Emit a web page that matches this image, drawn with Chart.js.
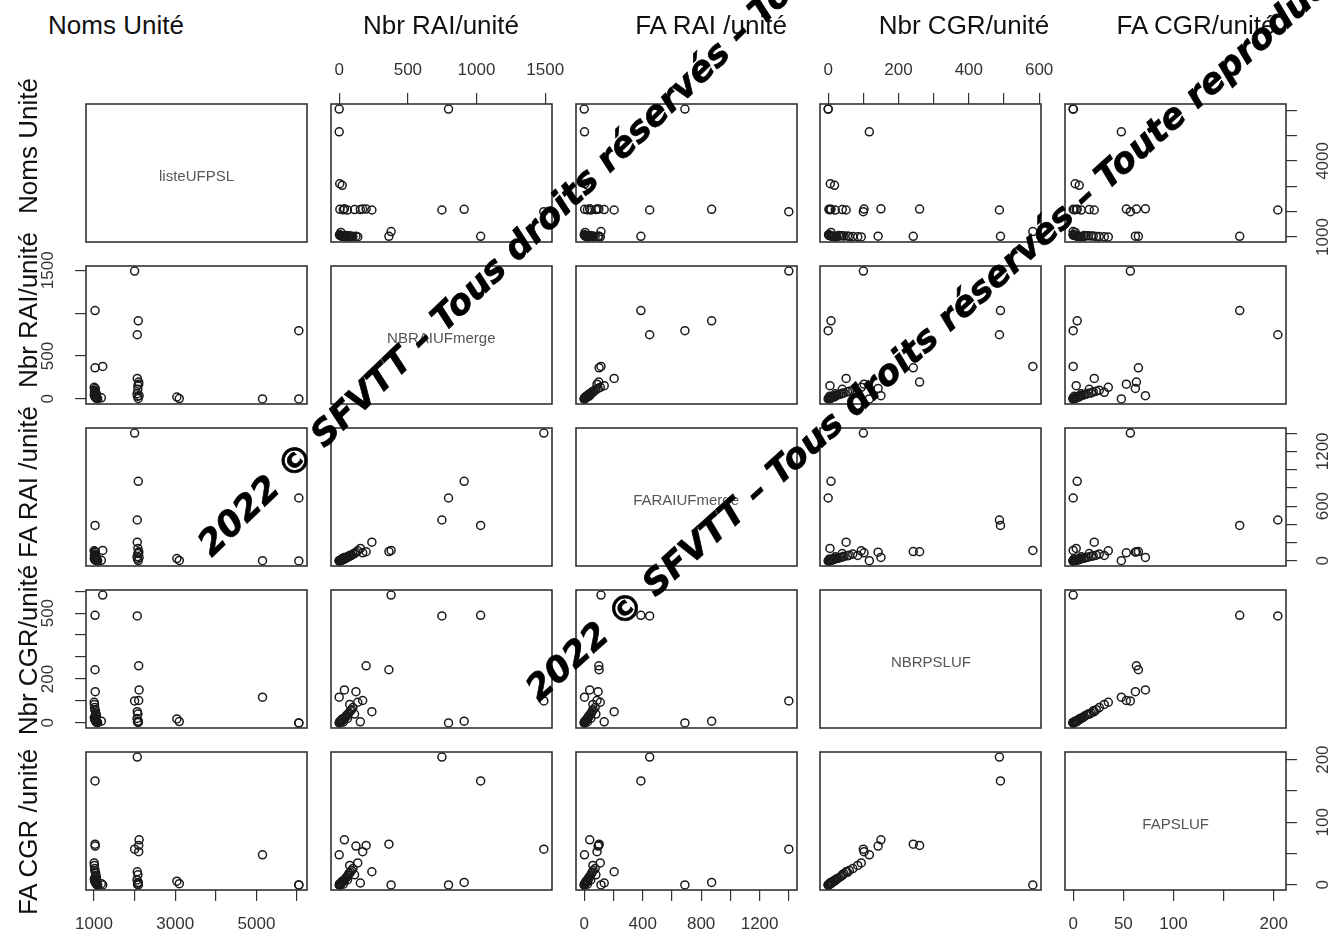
<!DOCTYPE html>
<html lang="fr">
<head>
  <meta charset="UTF-8">
  <title>Matrice de nuages de points</title>
  <script src="https://cdn.jsdelivr.net/npm/chart.js"></script>
  <style>
    html, body { margin: 0; padding: 0; background: #fff; }
    #page { position: relative; width: 1332px; height: 937px; overflow: hidden; font-family: "Liberation Sans", Arial, sans-serif; }
    .panel { position: absolute; }
    .panel canvas { display: block; }
    .hdr { position: absolute; top: 12px; font-size: 26px; line-height: 26px; color: #111; white-space: nowrap; transform: translateX(-50%); }
    .side { position: absolute; left: 28px; font-size: 26px; line-height: 26px; color: #111; white-space: nowrap; transform: translate(-50%, -50%) rotate(-90deg); }
    .diag { position: absolute; font-size: 15px; color: #555; white-space: nowrap; transform: translate(-50%, -50%); }
    .wm { position: absolute; font-family: "DejaVu Sans", sans-serif; font-weight: bold; font-style: italic; font-size: 35px; line-height: 35px; color: #000; -webkit-text-stroke: 0.7px #000; white-space: nowrap; transform-origin: 0 100%; z-index: 5; }
  </style>
</head>
<body>
<div id="page"></div>
<script>
  // noms des variables (en-têtes) et étiquettes de la diagonale
  const varNames = ['Noms Unité', 'Nbr RAI/unité', 'FA RAI /unité', 'Nbr CGR/unité', 'FA CGR/unité'];
  const sideNames = ['Noms Unité', 'Nbr RAI/unité', 'FA RAI /unité', 'Nbr CGR/unité', 'FA CGR /unité'];
  const diagLabels = ['listeUFPSL', 'NBRAIUFmerge', 'FARAIUFmerge', 'NBRPSLUF', 'FAPSLUF'];

  // une valeur par unité (même ordre dans chaque tableau)
  const nomsUnite = [2000, 1025, 2090, 2065, 6044, 1025, 1214, 2065, 2100, 5150, 6044, 1030, 2110, 2100, 2080, 3040, 3100,
                     2060, 2070, 2090, 2080, 1004, 1010, 1015, 1020, 1035, 1040, 1045, 1050, 1060, 1008, 1012, 1018,
                     1022, 1030, 1038, 1042, 1055, 1065, 1075, 1090, 1180];
  const nbrRAI    = [1490, 1030, 910, 748, 796, 362, 378, 238, 196, 0, 0, 122, 38, 171, 154, 22, 4,
                     60, 30, 5, 112, 135, 77, 100, 90, 82, 70, 65, 55, 50, 45, 40, 35,
                     30, 25, 20, 15, 10, 8, 5, 2, 12];
  const faRAI     = [1400, 388, 872, 448, 689, 102, 115, 205, 100, 2, 0, 95, 38, 88, 137, 25, 5,
                     45, 22, 3, 80, 110, 60, 75, 62, 55, 50, 42, 38, 30, 28, 25, 20,
                     15, 12, 10, 8, 5, 4, 2, 1, 6];
  const nbrCGR    = [100, 490, 8, 487, 0, 242, 582, 51, 260, 117, 0, 142, 150, 102, 5, 18, 6,
                     20, 4, 2, 40, 94, 84, 70, 60, 55, 45, 40, 35, 30, 25, 22, 18,
                     15, 12, 10, 8, 5, 3, 2, 1, 8];
  const faCGR     = [57, 166, 4, 204, 0, 65, 0, 21, 63, 48, 0, 62, 72, 53, 3, 6, 2,
                     8, 1, 0, 16, 35, 31, 26, 23, 20, 18, 15, 13, 11, 10, 8, 7,
                     6, 5, 4, 3, 2, 1, 0, 0, 2];

  // graduations
  const ticksU = [1000, 2000, 3000, 4000, 5000, 6000];
  const ticksRAI = [0, 500, 1000, 1500];
  const ticksFARAI = [0, 200, 400, 600, 800, 1000, 1200, 1400];
  const ticksCGR = [0, 100, 200, 300, 400, 500, 600];
  const ticksFACGR = [0, 50, 100, 150, 200];

  // étiquettes affichées sur chaque côté
  const lblBottomU = [1000, 3000, 5000];
  const lblBottomFARAI = [0, 400, 800, 1200];
  const lblBottomFACGR = [0, 50, 100, 200];
  const lblTopRAI = [0, 500, 1000, 1500];
  const lblTopCGR = [0, 200, 400, 600];
  const lblLeftRAI = [0, 500, 1500];
  const lblLeftCGR = [0, 200, 500];
  const lblRightU = [1000, 4000];
  const lblRightFARAI = [0, 600, 1200];
  const lblRightFACGR = [0, 100, 200];

  const VARS = [nomsUnite, nbrRAI, faRAI, nbrCGR, faCGR];
  const TICKS = [ticksU, ticksRAI, ticksFARAI, ticksCGR, ticksFACGR];
  const shownBottom = {0: lblBottomU, 2: lblBottomFARAI, 4: lblBottomFACGR};
  const shownTop = {1: lblTopRAI, 3: lblTopCGR};
  const shownLeft = {1: lblLeftRAI, 3: lblLeftCGR};
  const shownRight = {0: lblRightU, 2: lblRightFARAI, 4: lblRightFACGR};

  // mise en page
  const PANEL_LEFT = [86, 330.8, 575.6, 820.4, 1065.2];
  const PANEL_TOP = [104, 265.9, 427.8, 589.7, 751.6];
  const PW = 221, PH = 138, M = 60;
  const TICK_LEN = 11;
  const FONT = '"Liberation Sans", Arial, sans-serif';
  const FONT_SIZE = 17;

  const page = document.getElementById('page');

  // étendue des axes comme R (4 % de marge)
  function paddedRange(arr) {
    const lo = Math.min(...arr), hi = Math.max(...arr), d = (hi - lo) * 0.04;
    return [lo - d, hi + d];
  }
  const RANGES = VARS.map(paddedRange);

  const measureCtx = document.createElement('canvas').getContext('2d');
  measureCtx.font = FONT_SIZE + 'px ' + FONT;
  function widest(labels) {
    return Math.max(...labels.map(l => measureCtx.measureText(String(l)).width));
  }

  function axisCfg(axis, position, v, shown) {
    const show = !!shown;
    const vertical = axis === 'y';
    let pad = 0;
    if (show && vertical) pad = 26.5 - widest(shown) / 2;
    if (show && !vertical) pad = position === 'top' ? 12 : 13;
    return {
      type: 'linear', axis: axis, position: position, bounds: 'data',
      min: RANGES[v][0], max: RANGES[v][1], display: true,
      grid: { display: show, drawOnChartArea: false, drawTicks: true, tickLength: TICK_LEN, color: '#333', lineWidth: 1.2 },
      border: { display: false },
      ticks: {
        display: show, autoSkip: false, color: '#333', padding: pad,
        font: { family: FONT, size: FONT_SIZE },
        minRotation: vertical ? 90 : 0, maxRotation: vertical ? 90 : 0,
        crossAlign: vertical ? 'center' : 'near',
        callback: val => (show && shown.includes(val)) ? String(val) : ''
      },
      afterBuildTicks: s => { s.ticks = TICKS[v].map(t => ({ value: t })); },
      afterFit: s => { if (s.isHorizontal()) s.height = M; else s.width = M; }
    };
  }

  const boxPlugin = {
    id: 'panelBox',
    afterDraw(chart) {
      const { ctx, chartArea: a } = chart;
      ctx.save();
      ctx.strokeStyle = '#333';
      ctx.lineWidth = 1.6;
      ctx.strokeRect(a.left, a.top, a.right - a.left, a.bottom - a.top);
      ctx.restore();
    }
  };

  function makePanel(i, j) {
    const div = document.createElement('div');
    div.className = 'panel';
    div.style.left = (PANEL_LEFT[j] - M) + 'px';
    div.style.top = (PANEL_TOP[i] - M) + 'px';
    const canvas = document.createElement('canvas');
    canvas.width = PW + 2 * M;
    canvas.height = PH + 2 * M;
    canvas.style.width = (PW + 2 * M) + 'px';
    canvas.style.height = (PH + 2 * M) + 'px';
    div.appendChild(canvas);
    page.appendChild(div);

    const pts = i === j ? [] : VARS[j].map((xv, k) => ({ x: xv, y: VARS[i][k] }));

    new Chart(canvas, {
      type: 'scatter',
      data: {
        datasets: [{
          data: pts,
          pointRadius: 4,
          pointBorderWidth: 1.5,
          pointBorderColor: '#1a1a1a',
          pointBackgroundColor: 'rgba(0,0,0,0)',
          pointHoverRadius: 4
        }]
      },
      options: {
        responsive: false,
        animation: false,
        events: [],
        layout: { padding: 0 },
        plugins: { legend: { display: false }, tooltip: { enabled: false } },
        scales: {
          x: axisCfg('x', 'bottom', j, i === 4 ? shownBottom[j] : null),
          xTop: axisCfg('x', 'top', j, i === 0 ? shownTop[j] : null),
          y: axisCfg('y', 'left', i, j === 0 ? shownLeft[i] : null),
          yRight: axisCfg('y', 'right', i, j === 4 ? shownRight[i] : null)
        }
      },
      plugins: [boxPlugin]
    });

    if (i === j) {
      const t = document.createElement('div');
      t.className = 'diag';
      t.textContent = diagLabels[i];
      t.style.left = (PANEL_LEFT[j] + PW / 2) + 'px';
      t.style.top = (PANEL_TOP[i] + PH / 2 + 2) + 'px';
      page.appendChild(t);
    }
  }

  for (let i = 0; i < 5; i++) {
    for (let j = 0; j < 5; j++) makePanel(i, j);
  }

  // titres en haut et à gauche
  const hdrX = [116, 441, 711, 964, 1196];
  varNames.forEach((n, k) => {
    const d = document.createElement('div');
    d.className = 'hdr';
    d.textContent = n;
    d.style.left = hdrX[k] + 'px';
    page.appendChild(d);
  });
  const sideY = [146, 310, 482, 650, 832];
  sideNames.forEach((n, k) => {
    const d = document.createElement('div');
    d.className = 'side';
    d.textContent = n;
    d.style.top = sideY[k] + 'px';
    page.appendChild(d);
  });

  // filigrane
  const wmText = '2022 © SFVTT – Tous droits réservés – Toute reproduction interdite';
  [[216, 557, -44], [543, 702, -42]].forEach(([x, y, ang]) => {
    const d = document.createElement('div');
    d.className = 'wm';
    d.textContent = wmText;
    d.style.left = x + 'px';
    d.style.top = (y - 30) + 'px';
    d.style.transform = 'rotate(' + ang + 'deg)';
    page.appendChild(d);
  });
</script>
</body>
</html>
